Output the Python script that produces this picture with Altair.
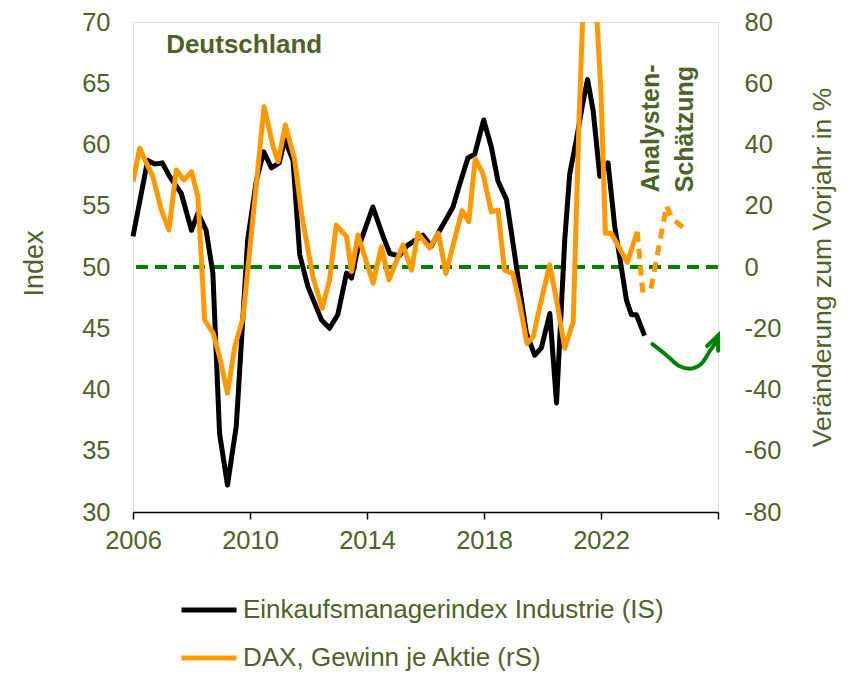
import altair as alt
import pandas as pd

OLIVE = "#4F6228"
ORANGE = "#FF9900"
GREEN = "#008000"
FONT = "Liberation Sans"

L_PMI = "Einkaufsmanagerindex Industrie (IS)"
L_EPS = "DAX, Gewinn je Aktie (rS)"

# Einkaufsmanagerindex Industrie (left axis)
pmi_year = [2006.00, 2006.50, 2006.75, 2007.00, 2007.25, 2007.65, 2008.00, 2008.22, 2008.50,
            2008.73, 2008.96, 2009.23, 2009.53, 2009.92, 2010.22, 2010.47, 2010.73, 2011.00,
            2011.19, 2011.47, 2011.70, 2011.98, 2012.44, 2012.72, 2013.00, 2013.30, 2013.47,
            2013.68, 2014.20, 2014.55, 2014.78, 2015.10, 2015.35, 2015.91, 2016.20, 2016.49,
            2016.94, 2017.15, 2017.45, 2017.68, 2017.99, 2018.25, 2018.48, 2018.77, 2019.11,
            2019.45, 2019.73, 2019.96, 2020.25, 2020.48, 2020.76, 2020.93, 2021.16, 2021.38,
            2021.54, 2021.73, 2021.96, 2022.24, 2022.47, 2022.64, 2022.87, 2023.04, 2023.21,
            2023.49]
pmi_val = [52.5, 58.7, 58.4, 58.5, 57.4, 56.0, 53.0, 54.4, 53.0,
           49.5, 36.4, 32.2, 37.0, 52.2, 57.1, 59.4, 58.1, 58.5,
           60.4, 58.7, 51.0, 48.4, 45.7, 45.0, 46.1, 49.5, 49.1,
           51.4, 54.9, 52.5, 51.1, 50.9, 51.7, 52.6, 51.7, 53.0,
           54.9, 56.6, 58.9, 59.2, 62.0, 59.8, 57.0, 55.5, 50.0,
           44.6, 42.8, 43.4, 46.2, 38.9, 52.2, 57.6, 60.4, 63.4,
           65.3, 62.8, 57.4, 58.5, 53.3, 50.8, 47.3, 46.1, 46.1,
           44.4]

# DAX, Gewinn je Aktie, Veränderung zum Vorjahr in % (right axis)
eps_year = [2006.00, 2006.23, 2006.46, 2006.68, 2006.97, 2007.23, 2007.48, 2007.74, 2008.00,
            2008.22, 2008.45, 2008.74, 2008.96, 2009.23, 2009.48, 2009.76, 2010.48, 2010.79,
            2010.96, 2011.21, 2011.53, 2011.76, 2012.15, 2012.47, 2012.72, 2012.95, 2013.30,
            2013.47, 2013.69, 2014.21, 2014.49, 2014.75, 2015.23, 2015.52, 2015.74, 2016.14,
            2016.44, 2016.70, 2016.93, 2017.25, 2017.48, 2017.70, 2017.96, 2018.25, 2018.48,
            2018.70, 2018.98, 2019.22, 2019.47, 2019.68, 2019.96, 2020.25, 2020.48, 2020.76,
            2021.05, 2021.25, 2021.50, 2021.75, 2022.00, 2022.15, 2022.35, 2022.90, 2023.24]
eps_val = [27.9, 38.8, 33.9, 29.5, 18.6, 12.1, 31.7, 28.4, 31.1,
           23.0, -17.3, -21.6, -29.3, -41.2, -26.0, -16.7, 52.3, 39.3,
           34.4, 46.4, 34.9, 17.5, -3.2, -13.5, -4.2, 13.7, 9.9,
           -1.5, 10.4, -5.3, 6.6, -4.2, 7.2, -1.0, 11.0, 6.2,
           11.0, -2.1, 6.6, 18.4, 14.8, 35.3, 30.6, 18.0, 18.6,
           -1.0, -2.1, -11.9, -25.0, -22.8, -10.8, 0.7, -10.8, -26.5,
           -17.9, 48.0, 115.0, 100.0, 57.0, 11.0, 11.0, 1.5, 11.5]

# Analysten-Schätzung (dashed)
est_year = [2023.24, 2023.42, 2023.70, 2024.24, 2024.42, 2024.92]
est_val = [11.5, -7.5, -7.5, 20.0, 16.0, 12.0]

# green arrow (left-axis units)
arrow_year = [2023.76, 2024.24, 2024.69, 2025.03, 2025.43, 2025.71, 2025.94, 2026.00]
arrow_val = [43.7, 42.8, 41.9, 41.7, 42.1, 43.1, 44.0, 44.4]

pmi_df = pd.DataFrame({"year": pmi_year, "v": pmi_val, "series": L_PMI})
eps_df = pd.DataFrame({"year": eps_year, "r": eps_val, "series": L_EPS})
est_df = pd.DataFrame({"year": est_year, "r": est_val})
arrow_df = pd.DataFrame({"year": arrow_year, "v": arrow_val})
tip_df = pd.DataFrame({"year": [arrow_year[-1]], "v": [arrow_val[-1]]})
ref_df = pd.DataFrame({"v": [50]})
title_df = pd.DataFrame({"year": [2009.8], "v": [68.1], "t": ["Deutschland"]})
est_txt_df = pd.DataFrame({"year": [2023.72, 2024.86], "v": [56.1, 56.1],
                           "t": ["Analysten-", "Schätzung"]})

X = alt.X("year:Q",
          scale=alt.Scale(domain=[2006, 2026], nice=False, zero=False),
          axis=alt.Axis(values=[2006, 2010, 2014, 2018, 2022, 2026],
                        labelExpr="datum.value == 2026 ? '' : '' + datum.value",
                        labelFlush=False, labelOverlap=False,
                        title=None, grid=False, domainColor="black", domainWidth=1.5,
                        tickColor="black", tickWidth=1.5, tickSize=7,
                        labelFontSize=25.5, labelColor=OLIVE, labelPadding=9,
                        labelFont=FONT))

left_axis = alt.Axis(values=[30, 35, 40, 45, 50, 55, 60, 65, 70], title="Index",
                     grid=False, domain=False, ticks=False, labelPadding=23,
                     labelFontSize=25.5, labelColor=OLIVE, labelFont=FONT,
                     titleFontSize=27, titleFontWeight="normal", titleColor=OLIVE,
                     titleFont=FONT, titleAngle=270, titleX=-91, titleY=241,
                     titleAlign="center", titleBaseline="alphabetic")
YL = alt.Y("v:Q", scale=alt.Scale(domain=[30, 70], nice=False, zero=False), axis=left_axis)

right_axis = alt.Axis(values=list(range(-80, 81, 20)), title="Veränderung zum Vorjahr in %",
                      orient="right", grid=False, domain=False, ticks=False, labelPadding=26,
                      labelExpr="'' + datum.value",
                      labelFontSize=25.5, labelColor=OLIVE, labelFont=FONT,
                      titleFontSize=26.5, titleFontWeight="normal", titleColor=OLIVE,
                      titleFont=FONT, titleAngle=270, titleX=112, titleY=245,
                      titleAlign="center", titleBaseline="alphabetic")
YR = alt.Y("r:Q", scale=alt.Scale(domain=[-80, 80], nice=False, zero=False), axis=right_axis)

color = alt.Color("series:N",
                  scale=alt.Scale(domain=[L_PMI, L_EPS], range=["black", ORANGE]),
                  legend=alt.Legend(title=None, orient="none", legendX=46, legendY=558,
                                    direction="vertical", symbolType="stroke",
                                    symbolSize=3025, symbolStrokeWidth=5,
                                    labelFontSize=26, labelColor=OLIVE, labelFont=FONT,
                                    labelOffset=4, labelLimit=0, rowPadding=5))

ref = alt.Chart(ref_df).mark_rule(color=GREEN, strokeWidth=4, strokeDash=[12, 7]).encode(y=YL)

pmi = alt.Chart(pmi_df).mark_line(strokeWidth=5, strokeJoin="round").encode(
    x=X, y=YL, color=color, order="year:Q")

arrow = alt.Chart(arrow_df).mark_line(color=GREEN, strokeWidth=4, interpolate="monotone",
                                      strokeCap="round").encode(x=X, y=YL, order="year:Q")
tip = alt.Chart(tip_df).mark_point(shape="M -0.4 0.92 L 0 0 L 0.4 0.92", size=900,
                                   filled=False, color=GREEN, strokeWidth=4, angle=23,
                                   opacity=1, strokeCap="round", strokeJoin="miter").encode(x=X, y=YL)

title_txt = alt.Chart(title_df).mark_text(font=FONT, fontSize=26, fontWeight="bold",
                                          color=OLIVE, align="center", baseline="middle").encode(
    x=X, y=YL, text="t:N")
est_txt = alt.Chart(est_txt_df).mark_text(font=FONT, fontSize=25, fontWeight="bold",
                                          color=OLIVE, align="left", baseline="middle",
                                          angle=270).encode(x=X, y=YL, text="t:N")

eps = alt.Chart(eps_df).mark_line(strokeWidth=5, strokeJoin="round", clip=True).encode(
    x=X, y=YR, color=color, order="year:Q")
est = alt.Chart(est_df).mark_line(strokeWidth=5, strokeDash=[10, 7], color=ORANGE).encode(
    x=X, y=YR, order="year:Q")

left = alt.layer(ref, pmi, arrow, tip, title_txt, est_txt)
right = alt.layer(eps, est)

chart = alt.layer(left, right).resolve_scale(y="independent").properties(
    width=585, height=490,
    autosize=alt.AutoSizeParams(type="none"),
    padding={"left": 125, "top": 14, "right": 120, "bottom": 162},
).configure_view(strokeWidth=0).configure(font=FONT)

chart.save("out.html", embed_options={"renderer": "svg", "actions": False})
